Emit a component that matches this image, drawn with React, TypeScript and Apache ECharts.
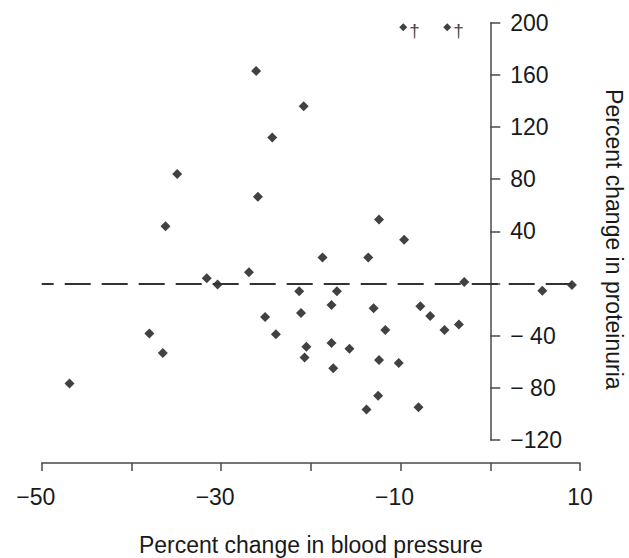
import React, { useEffect, useRef } from "react";
import * as echarts from "echarts";

const bpChange: number[] = [
  -26.1, -20.8, -24.3, -34.9, -25.9, -36.2, -18.7, -31.6, -30.4, -26.9,
  -13.6, -12.4, -9.6, -2.9, -17.1, 5.8, 9.1, -17.7, -13.0, -7.8,
  -6.7, -11.7, -5.1, -3.5, -20.5, -17.7, -15.7, -20.7, -12.4, -10.2,
  -17.5, -12.5, -13.8, -8.0, -21.3, -21.1, -25.1, -23.9, -38.0, -36.5,
  -46.9,
];
const proteinuriaChange: number[] = [
  163, 136, 112, 84, 66.5, 44, 20, 4, -0.8, 8.6,
  20, 49, 33.5, 1.2, -6, -5.5, -1.1, -16.5, -19, -17.5,
  -25, -35.6, -35.6, -31.5, -48.4, -45.6, -50, -56.8, -58.6, -61,
  -65, -86, -96.6, -94.8, -6, -22.6, -25.6, -39, -38.4, -53.2,
  -76.7,
];
// values beyond the axis, marked with a dagger
const offScaleBp: number[] = [-9.7, -4.8];
const offScaleProt: number[] = [196.5, 196.5];
const offScaleMark = "†";

const xTickLabels: number[] = [-50, -30, -10, 10];
const yTickValues: number[] = [-120, -80, -40, 0, 40, 80, 120, 160, 200];

const xTitle = "Percent change in blood pressure";
const yTitle = "Percent change in proteinuria";

const FONT = "'Liberation Sans', Arial, Helvetica, sans-serif";
const TEXT = "#1a1a1a";
const AXIS = "#4a4a4a";

const GRID_LEFT = 41.7;
const GRID_RIGHT_PX = 580;
const X_MIN = -50;
const X_MAX = 10;

export default function App() {
  const ref = useRef<HTMLDivElement>(null);

  useEffect(() => {
    document.body.style.margin = "0";
    if (!ref.current) return;
    const chart = echarts.init(ref.current, undefined, { renderer: "svg" });

    const mainData = bpChange.map((x, i) => [x, proteinuriaChange[i]]);
    const offData = offScaleBp.map((x, i) => [x, offScaleProt[i]]);

    // place the y axis where x = 0 falls inside the grid
    const zeroPx = GRID_LEFT + ((0 - X_MIN) / (X_MAX - X_MIN)) * (GRID_RIGHT_PX - GRID_LEFT);
    const yAxisOffset = zeroPx - GRID_RIGHT_PX;

    const option: any = {
      animation: false,
      backgroundColor: "#ffffff",
      textStyle: { fontFamily: FONT },
      grid: {
        left: GRID_LEFT,
        right: 629 - GRID_RIGHT_PX,
        top: 22.7,
        bottom: 118,
        containLabel: false,
        outerBoundsMode: "none",
      },
      xAxis: {
        type: "value",
        min: X_MIN,
        max: X_MAX,
        interval: 10,
        offset: 23,
        name: xTitle,
        nameLocation: "middle",
        nameGap: 70,
        nameTextStyle: { fontSize: 23, color: TEXT, fontFamily: FONT },
        axisLine: { show: true, onZero: false, lineStyle: { color: AXIS, width: 1.5 } },
        axisTick: { show: true, inside: false, length: 8, lineStyle: { color: AXIS, width: 1.5 } },
        splitLine: { show: false },
        axisLabel: {
          margin: 22,
          fontSize: 23,
          color: TEXT,
          fontFamily: FONT,
          formatter: (v: number) => {
            if (!xTickLabels.includes(v)) return "";
            return v < 0 ? `{n|\u2212${-v}}` : `{p|${v}}`;
          },
          rich: {
            n: { fontSize: 23, color: TEXT, fontFamily: FONT, padding: [0, 12, 0, 0] },
            p: { fontSize: 23, color: TEXT, fontFamily: FONT },
          },
        },
      },
      yAxis: {
        type: "value",
        position: "right",
        offset: yAxisOffset,
        min: -120,
        max: 200,
        interval: 40,
        name: yTitle,
        nameLocation: "middle",
        nameGap: 112,
        nameRotate: -90,
        nameTextStyle: { fontSize: 23, color: TEXT, fontFamily: FONT, padding: [0, 0, 0, 16] },
        axisLine: { show: true, onZero: false, lineStyle: { color: AXIS, width: 1.5 } },
        axisTick: { show: true, inside: false, length: 10, lineStyle: { color: AXIS, width: 1.5 } },
        splitLine: { show: false },
        axisLabel: {
          margin: 20,
          fontSize: 23,
          color: TEXT,
          fontFamily: FONT,
          formatter: (v: number) => {
            if (!yTickValues.includes(v)) return "";
            if (v === 0) return "";
            if (v < 0) return -v >= 100 ? `\u2212${-v}` : `\u2212 ${-v}`;
            return `${v}`;
          },
        },
      },
      series: [
        {
          type: "scatter",
          data: mainData,
          symbol: "diamond",
          symbolSize: 10,
          itemStyle: { color: "#111111" },
          silent: true,
          markLine: {
            silent: true,
            symbol: "none",
            label: { show: false },
            lineStyle: { color: "#333333", width: 1.8, type: [26, 11], dashOffset: 14 },
            data: [{ yAxis: 0 }],
          },
        },
        {
          type: "scatter",
          data: offData,
          symbol: "diamond",
          symbolSize: 8,
          itemStyle: { color: "#111111" },
          silent: true,
          label: {
            show: true,
            position: "right",
            distance: 2,
            offset: [0, 3],
            formatter: () => offScaleMark,
            fontSize: 19,
            color: "#111111",
            fontFamily: FONT,
          },
        },
      ],
    };

    chart.setOption(option);
    return () => chart.dispose();
  }, []);

  return <div ref={ref} style={{ width: 629, height: 558 }} />;
}
